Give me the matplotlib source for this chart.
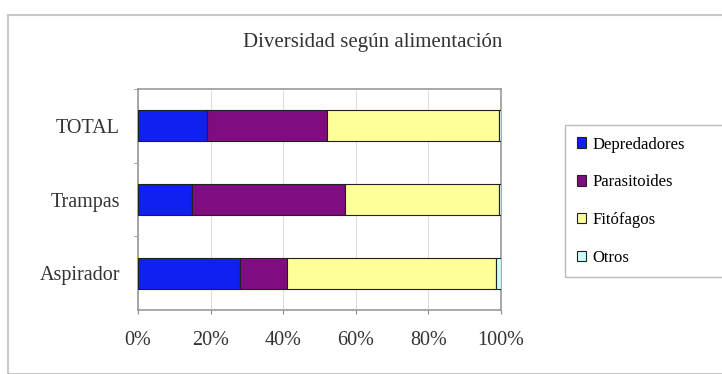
import numpy as np
import matplotlib.pyplot as plt
from matplotlib.patches import Rectangle

plt.rcParams['font.family'] = ['Liberation Serif', 'DejaVu Serif']

categories = ["Aspirador", "Trampas", "TOTAL"]
series = ["Depredadores", "Parasitoides", "Fitófagos", "Otros"]
depredadores = [28.0, 15.0, 19.0]
parasitoides = [13.0, 42.0, 33.0]
fitofagos = [57.5, 42.5, 47.5]
otros = [1.5, 0.5, 0.5]
colors = ["#1020f0", "#800d80", "#ffff99", "#ccffff"]

fig = plt.figure(figsize=(7.22, 3.74), dpi=100)
fig.patches.append(Rectangle((8 / 722, 0), 1, 1 - 15 / 374, transform=fig.transFigure,
                             fill=False, edgecolor="#c8c8c8", lw=1.5))
ax = fig.add_axes([138 / 722, 1 - 310 / 374, 363 / 722, 221 / 374])

y = np.arange(len(categories))
left = np.zeros(len(categories))
for name, vals, c in zip(series, [depredadores, parasitoides, fitofagos, otros], colors):
    ax.barh(y, vals, left=left, height=0.42, color=c, edgecolor="#202020",
            linewidth=0.8, label=name, zorder=3)
    left += np.array(vals)

ax.set_xlim(0, 100)
ax.set_ylim(-0.5, 2.5)
ax.set_xticks(np.arange(0, 101, 20))
ax.set_xticklabels([f"{v}%" for v in range(0, 101, 20)], fontsize=14.5, color="#333333")
ax.set_yticks(y)
ax.set_yticklabels(categories, fontsize=14.5, color="#333333")
ax.set_yticks([0.5, 1.5, 2.5], minor=True)
ax.tick_params(axis="y", which="major", length=0, pad=13)
ax.tick_params(axis="y", which="minor", length=3, color="#888888")
ax.tick_params(axis="x", length=3, color="#888888", pad=12)
ax.grid(axis="x", color="#dddddd", lw=0.8, zorder=0)
for s in ax.spines.values():
    s.set_color("#999999")
    s.set_linewidth(1.2)

fig.text(373 / 722, 1 - 42 / 374, "Diversidad según alimentación",
         ha="center", va="center", fontsize=15, color="#333333")

# leyenda pegada al borde derecho, como en el original
leg = ax.legend(loc="upper left", bbox_to_anchor=(565 / 722, 1 - 125 / 374, 170 / 722, 0),
                bbox_transform=fig.transFigure, mode="expand", frameon=True, fontsize=12,
                handlelength=0.55, handleheight=0.6, handletextpad=0.4,
                labelspacing=1.3, borderpad=0.7, borderaxespad=0, fancybox=False)
leg.get_frame().set_edgecolor("#aaaaaa")
leg.get_frame().set_linewidth(1.0)

fig.savefig("out.png", dpi=100)
